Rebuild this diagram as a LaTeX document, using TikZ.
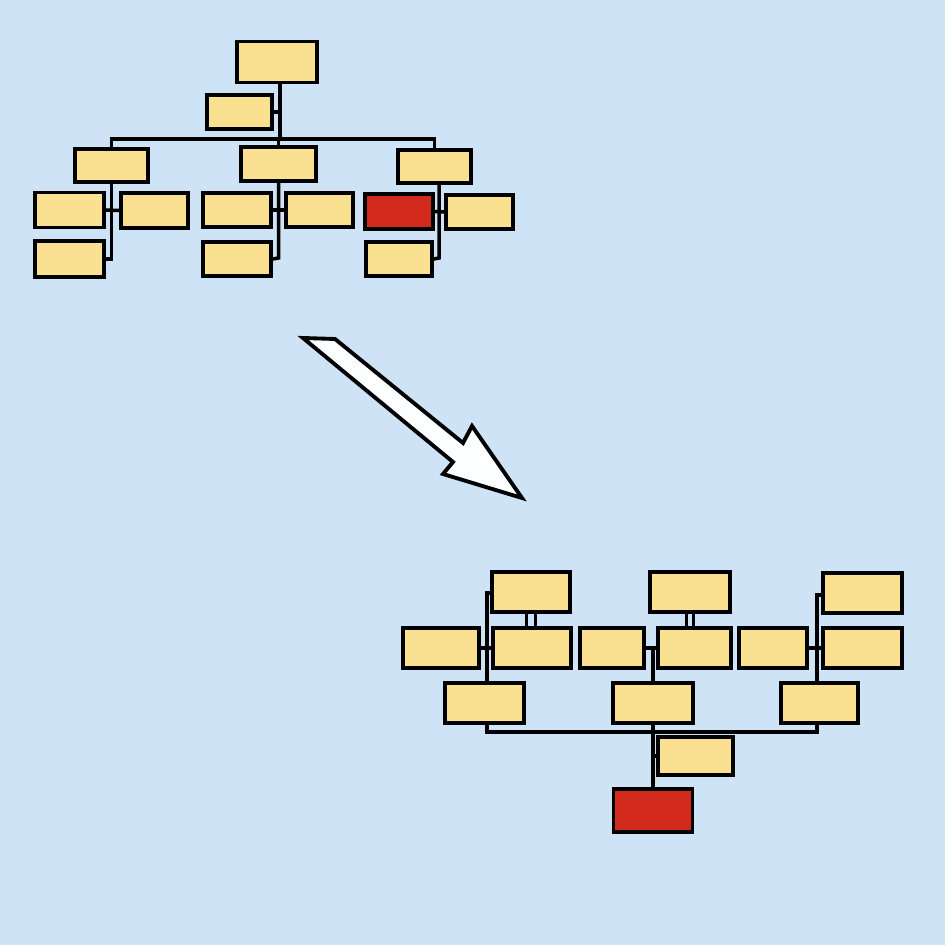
\documentclass[tikz,border=0pt]{standalone}
\usepackage{tikz}
\usepackage{xcolor}

\definecolor{paper}{RGB}{206,227,245}
\definecolor{card}{RGB}{250,224,145}
\definecolor{hot}{RGB}{210,42,28}

\begin{document}
\begin{tikzpicture}[x=1cm, y=-1cm,
    box/.style={draw=black, fill=card, line width=1.1pt, rectangle, inner sep=0pt,
      minimum width=0.68cm, minimum height=0.34cm},
    hotbox/.style={box, fill=hot},
    link/.style={draw=black, line width=1pt},
    arrowbody/.style={draw=black, fill=white!96!paper, line width=1.1pt, line join=miter}]
    \fill[paper] (0, 0) rectangle (9.45, 9.45);
    \useasboundingbox (0, 0) rectangle (9.45, 9.45);

    % old chart
    \node[box, minimum width=0.80cm, minimum height=0.41cm] (root) at (2.77, 0.62) {};
    \node[box, minimum width=0.65cm] (asst) at (2.395, 1.12) {};
    \node[box, minimum width=0.73cm, minimum height=0.33cm] (m1) at (1.115, 1.655) {};
    \node[box, minimum width=0.75cm] (m2) at (2.785, 1.64) {};
    \node[box, minimum width=0.73cm, minimum height=0.33cm] (m3) at (4.345, 1.665) {};
    \node[box, minimum width=0.69cm, minimum height=0.35cm] (s11) at (0.695, 2.10) {};
    \node[box, minimum width=0.67cm, minimum height=0.35cm] (s12) at (1.545, 2.105) {};
    \node[box, minimum width=0.69cm, minimum height=0.36cm] (s13) at (0.695, 2.59) {};
    \node[box] (s21) at (2.37, 2.10) {};
    \node[box, minimum width=0.67cm] (s22) at (3.195, 2.10) {};
    \node[box] (s23) at (2.37, 2.59) {};
    \node[hotbox, minimum height=0.35cm] (s31) at (3.99, 2.115) {};
    \node[box, minimum width=0.67cm] (s32) at (4.795, 2.12) {};
    \node[box, minimum width=0.66cm] (s33) at (3.99, 2.59) {};
    \coordinate (bus1) at (2.80, 1.39);
    \coordinate (v1) at (1.115, 2.59);
    \coordinate (v2) at (2.785, 2.58);
    \coordinate (v3) at (4.39, 2.58);
    \draw[link] (root.south -| bus1)--(bus1);
    \draw[link] (asst.east)--(asst.east -| bus1);
    \draw[link] (m1.north)--(m1.north |- bus1)--(m3.north |- bus1)--(m3.north);
    \draw[link] (m2.north)--(m2.north |- bus1);
    \draw[link] (m1.south)--(v1)--(s13.east);
    \draw[link] (s11.east)--(s12.west);
    \draw[link] (m2.south)--(v2)--(s23.east);
    \draw[link] (s21.east)--(s22.west);
    \draw[link] (m3.south -| v3)--(v3)--(s33.east);
    \draw[link] (s31.east)--(s32.west);

    % the move
    \draw[arrowbody] (3.03, 3.38)--(3.35, 3.39)--(4.63, 4.43)
      --(4.72, 4.26)--(5.22, 4.98)--(4.43, 4.74)--(4.53, 4.62)--cycle;

    % new chart
    \node[box, minimum width=0.78cm, minimum height=0.40cm] (p1) at (5.31, 5.92) {};
    \node[box, minimum width=0.80cm, minimum height=0.40cm] (p2) at (6.90, 5.92) {};
    \node[box, minimum width=0.79cm, minimum height=0.40cm] (p3) at (8.625, 5.93) {};
    \node[box, minimum width=0.76cm, minimum height=0.40cm] (q11) at (4.41, 6.48) {};
    \node[box, minimum width=0.78cm, minimum height=0.40cm] (q12) at (5.32, 6.48) {};
    \node[box, minimum width=0.64cm, minimum height=0.40cm] (q21) at (6.12, 6.48) {};
    \node[box, minimum width=0.73cm, minimum height=0.40cm] (q22) at (6.945, 6.48) {};
    \node[box, minimum width=0.68cm, minimum height=0.40cm] (q31) at (7.73, 6.48) {};
    \node[box, minimum width=0.79cm, minimum height=0.40cm] (q32) at (8.625, 6.48) {};
    \node[box, minimum width=0.79cm, minimum height=0.40cm] (r1) at (4.845, 7.03) {};
    \node[box, minimum width=0.80cm, minimum height=0.40cm] (r2) at (6.53, 7.03) {};
    \node[box, minimum width=0.77cm, minimum height=0.40cm] (r3) at (8.195, 7.03) {};
    \node[box, minimum width=0.75cm, minimum height=0.38cm] (e) at (6.955, 7.56) {};
    \node[hotbox, minimum width=0.79cm, minimum height=0.43cm] (fin) at (6.53, 8.105) {};
    \coordinate (w1) at (4.87, 5.93);
    \coordinate (w3) at (8.17, 5.95);
    \coordinate (bus2) at (6.53, 7.32);
    \draw[link] ([xshift=-0.045cm]p1.south)--([xshift=-0.045cm]p1.south |- q12.north);
    \draw[link] ([xshift=0.045cm]p1.south)--([xshift=0.045cm]p1.south |- q12.north);
    \draw[link] ([xshift=-0.035cm]p2.south)--([xshift=-0.035cm]p2.south |- q22.north);
    \draw[link] ([xshift=0.035cm]p2.south)--([xshift=0.035cm]p2.south |- q22.north);
    \draw[link] (p1.west |- w1)--(w1)--(w1 |- r1.north);
    \draw[link] (p3.west |- w3)--(w3)--(w3 |- r3.north);
    \draw[link] (q11.east)--(q12.west);
    \draw[link] (q21.east)--(q22.west);
    \draw[link] (q31.east)--(q32.west);
    \draw[link] (r2.north)--(r2.north |- q21.east);
    \draw[link] (w1 |- r1.south)--(w1 |- bus2)--(w3 |- bus2)--(w3 |- r3.south);
    \draw[link] (r2.south)--(fin.north);
    \draw[link] (e.west)--(e.west -| fin.north);
\end{tikzpicture}
\end{document}
